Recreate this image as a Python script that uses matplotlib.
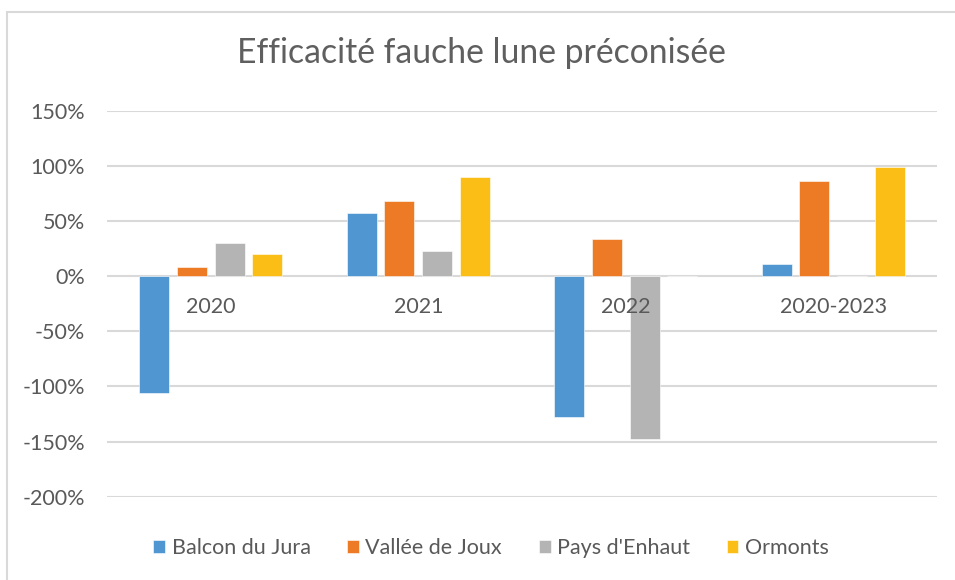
import matplotlib
matplotlib.use("Agg")
import matplotlib.pyplot as plt
from matplotlib.patches import Rectangle
from matplotlib.ticker import FuncFormatter, MultipleLocator
import numpy as np

plt.rcParams['font.family'] = ['Lato', 'DejaVu Sans']

categories = ["2020", "2021", "2022", "2020-2023"]
series_names = ["Balcon du Jura", "Vallée de Joux", "Pays d'Enhaut", "Ormonts"]
balcon = [-106, 57, -128, 11]
vallee = [8, 68, 34, 86]
pays = [30, 23, -148, 0]
ormonts = [20, 90, 0, 99]
colors = ["#5097D1", "#ED7A24", "#B4B4B4", "#FBBE16"]
title = "Efficacité fauche lune préconisée"

W, H = 955, 580
fig = plt.figure(figsize=(W / 100, H / 100), dpi=100)
fig.patches.append(Rectangle((7 / W, -0.1), 1.2, 1 - 12 / H + 0.1, transform=fig.transFigure,
                             fill=False, edgecolor="#D9D9D9", linewidth=1.5))

ax = fig.add_axes([107 / W, 1 - 496.7 / H, (937 - 107) / W, (496.7 - 110.7) / H])
x = np.arange(len(categories))
step = 0.182
width = 0.145
all_series = [balcon, vallee, pays, ormonts]
for i, (name, vals, c) in enumerate(zip(series_names, all_series, colors)):
    ax.bar(x + (i - 1.5) * step, vals, width=width, color=c, label=name, zorder=3,
           edgecolor="white", linewidth=0.4)

ax.set_xlim(-0.5, len(categories) - 0.5)
ax.set_ylim(-200, 150)
ax.yaxis.set_major_locator(MultipleLocator(50))
ax.yaxis.set_major_formatter(FuncFormatter(lambda v, p: f"{int(round(v))}%"))
ax.grid(axis="y", color="#D9D9D9", linewidth=1.5, zorder=0)
ax.set_xticks([])
for s in ax.spines.values():
    s.set_visible(False)
ax.tick_params(axis="y", length=0, pad=16, labelsize=15.5, labelcolor="#595959")

for xi, cat in zip(x, categories):
    ax.annotate(cat, xy=(xi, 0), xytext=(0, -31), textcoords="offset pixels",
                ha="center", va="center", fontsize=15.5, color="#595959", zorder=5)

fig.text(481 / W, 1 - 53 / H, title, ha="center", va="center", fontsize=24.3,
         color="#5f5f5f")

leg = fig.legend(loc="center", bbox_to_anchor=(491 / W, 1 - 548 / H), ncol=4, frameon=False,
                 fontsize=15.5, handlelength=0.55, handleheight=0.55, handletextpad=0.3,
                 columnspacing=1.7, labelcolor="#595959")

fig.savefig("out.png", dpi=100)
